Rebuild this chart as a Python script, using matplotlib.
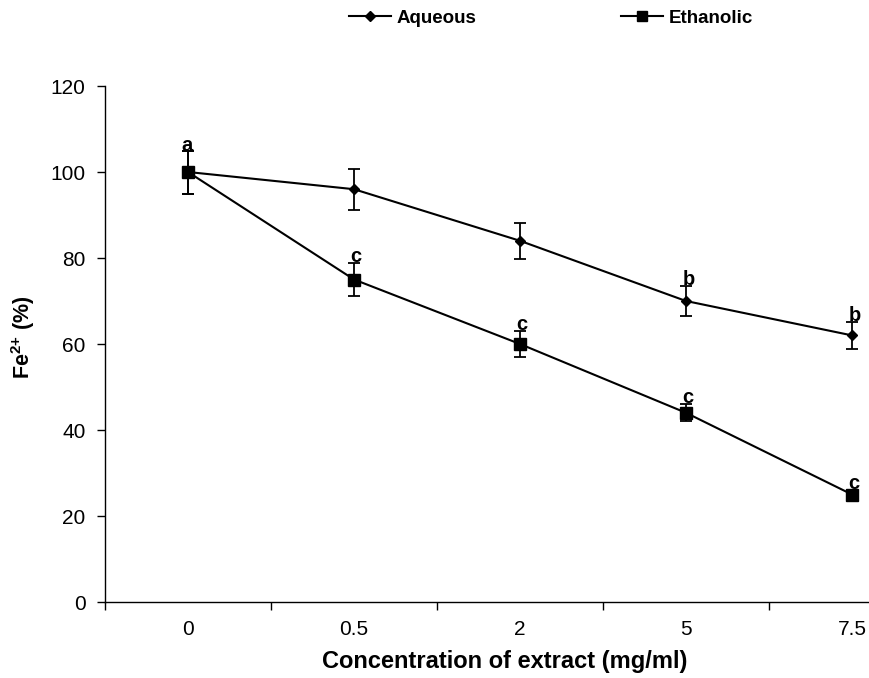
import matplotlib
matplotlib.use("Agg")
import matplotlib.pyplot as plt
from matplotlib.lines import Line2D
import numpy as np

categories = ["0", "0.5", "2", "5", "7.5"]
aqueous = [100, 96, 84, 70, 62]
aqueous_err = [5, 4.8, 4.2, 3.5, 3.1]
ethanolic = [100, 75, 60, 44, 25]
ethanolic_err = [5, 3.8, 3.0, 2.0, 1.0]
aqueous_letters = ["", "", "", "b", "b"]
ethanolic_letters = ["a", "c", "c", "c", "c"]

plt.rcParams['font.family'] = ['Liberation Sans', 'DejaVu Sans']
plt.rcParams['mathtext.fontset'] = 'custom'
plt.rcParams['mathtext.rm'] = 'Liberation Sans'
plt.rcParams['mathtext.bf'] = 'Liberation Sans:bold'

fig = plt.figure(figsize=(8.7, 6.78), dpi=100)
ax = fig.add_axes([105/870, 1-602/678, 830/870, (602-86)/678])

x = np.arange(len(categories))
ax.errorbar(x, aqueous, yerr=aqueous_err, color='black', lw=1.5, marker='D',
            markersize=5.5, capsize=4, elinewidth=1.3, capthick=1.3, clip_on=False, zorder=3)
ax.errorbar(x, ethanolic, yerr=ethanolic_err, color='black', lw=1.5, marker='s',
            markersize=8.5, capsize=4, elinewidth=1.3, capthick=1.3, clip_on=False, zorder=3)

for xi, v, e, t in zip(x, aqueous, aqueous_err, aqueous_letters):
    if t:
        ax.annotate(t, (xi, v + e), xytext=(2, -2), textcoords='offset points',
                    ha='center', va='bottom', fontsize=14.5, fontweight='bold')
for xi, v, e, t in zip(x, ethanolic, ethanolic_err, ethanolic_letters):
    if t:
        ax.annotate(t, (xi, v + e), xytext=(-1 if xi == 0 else 1, -3 if xi == 0 else -2),
                    textcoords='offset points',
                    ha='center', va='bottom', fontsize=14.5, fontweight='bold')

ax.set_xlim(-0.5, len(categories) - 0.5)
ax.set_ylim(0, 120)
ax.set_yticks(np.arange(0, 121, 20))
ax.set_xticks(x)
ax.set_xticklabels(categories)
ax.set_xticks(np.arange(-0.5, len(categories), 1.0), minor=True)
ax.tick_params(axis='x', which='major', length=0, pad=13, labelsize=15)
ax.tick_params(axis='x', which='minor', length=6, width=1, direction='out')
ax.tick_params(axis='y', length=6, width=1, direction='out', pad=8, labelsize=15)
for s in ['top', 'right']:
    ax.spines[s].set_visible(False)
for s in ['left', 'bottom']:
    ax.spines[s].set_linewidth(1)

ax.set_xlabel("Concentration of extract (mg/ml)", fontsize=17, fontweight='bold')
ax.set_ylabel(r"$\mathbf{Fe}^{\mathbf{2{+}}}$ (%)", fontsize=15.5, fontweight='bold')
ax.xaxis.set_label_coords(400/830, -48/516)
ax.yaxis.set_label_coords(-68/830, (602-337)/516)

handles = [Line2D([], [], color='black', lw=1.5, marker='D', markersize=5),
           Line2D([], [], color='black', lw=1.5, marker='s', markersize=7)]
fig.legend(handles, ["Aqueous", "Ethanolic"], loc='center', bbox_to_anchor=(551/870, 1-18/678),
           ncol=2, frameon=False, handlelength=2.25, handletextpad=0.3, columnspacing=7.7,
           prop={'weight': 'bold', 'size': 13.5})

fig.savefig("out.png", dpi=100)
